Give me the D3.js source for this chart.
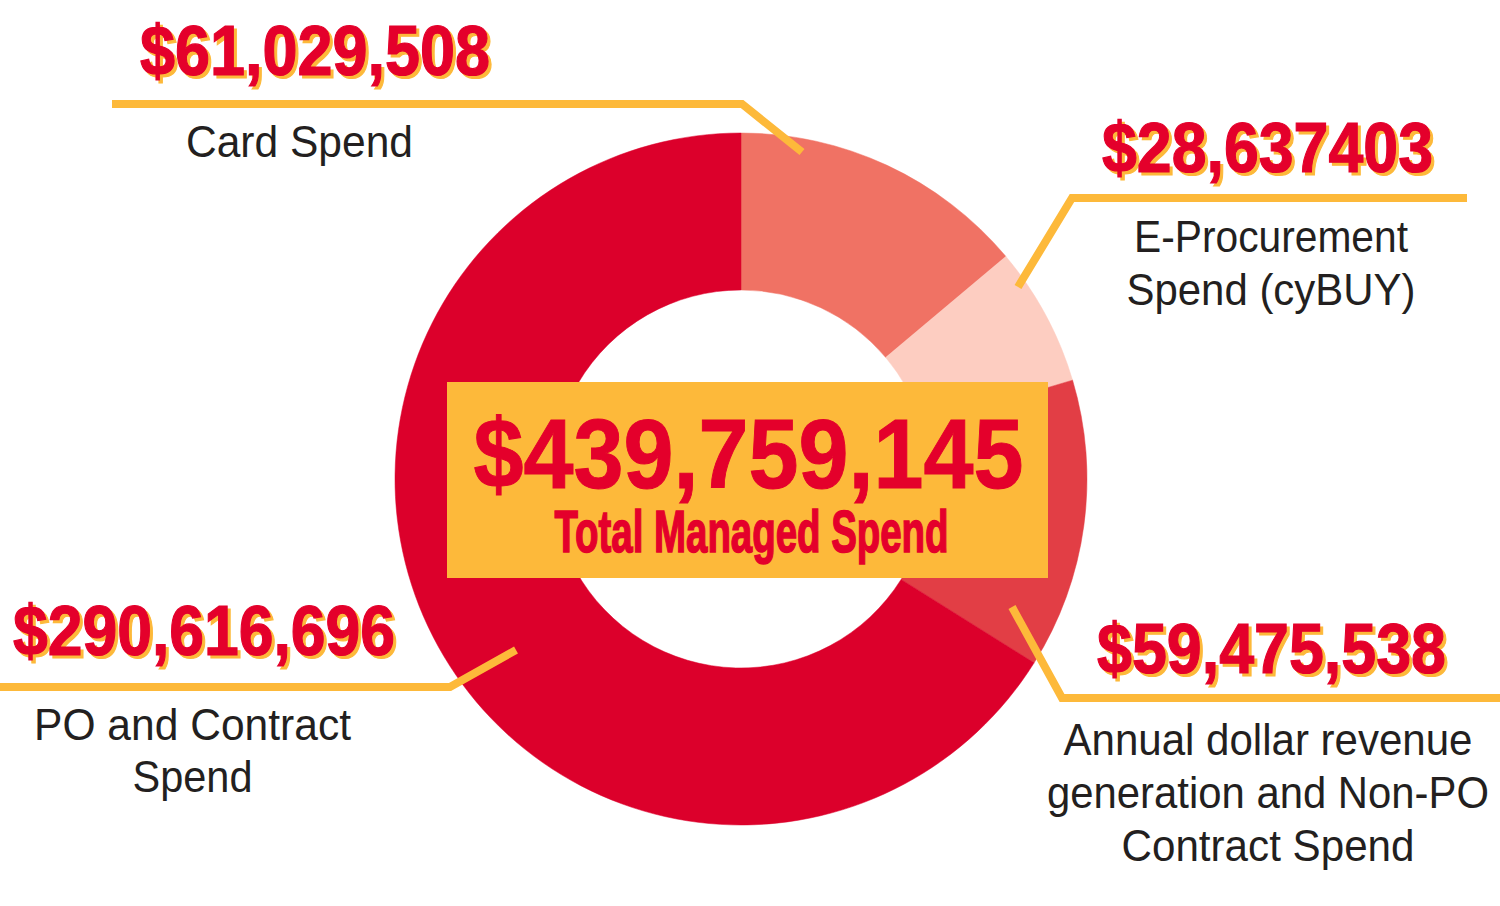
<!DOCTYPE html>
<html>
<head>
<meta charset="utf-8">
<script src="https://cdn.jsdelivr.net/npm/d3@7"></script>
<style>
  html, body { margin: 0; padding: 0; background: #ffffff; }
  svg { display: block; }
</style>
</head>
<body>
<svg id="chart" width="1500" height="906"></svg>
<script>
// ---------- DATA ----------
const categories = [
  "Card Spend",
  "E-Procurement Spend (cyBUY)",
  "Annual dollar revenue generation and Non-PO Contract Spend",
  "PO and Contract Spend"
];
const values = [61029508, 28637403, 59475538, 290616696];
const valueLabels = ["$61,029,508", "$28,637403", "$59,475,538", "$290,616,696"];
const labelLines = [
  ["Card Spend"],
  ["E-Procurement", "Spend (cyBUY)"],
  ["Annual dollar revenue", "generation and Non-PO", "Contract Spend"],
  ["PO and Contract", "Spend"]
];
const totalCaption = "Total Managed Spend";

// ---------- STYLE / LAYOUT ----------
const sliceColors = ["#F07264", "#FDCDC1", "#E23E45", "#DC002B"];
const RED = "#E4002B";
const GOLD = "#FDB93A";
const INK = "#231F20";
const cx = 741, cy = 479, rOuter = 346, rInner = 189;

const numFont = "'Liberation Sans', Arial, Helvetica, sans-serif";
const txtFont = "'Liberation Sans', Arial, Helvetica, sans-serif";

// annotation layout per category (same order as categories)
const layout = [
  { vx: 315, vy: 75, vw: 350, lx: 299.5, ly: 157, lh: 53, lw: [227],
    leader: [[112, 104], [742, 104], [802, 152]] },
  { vx: 1267.5, vy: 172, vw: 331, lx: 1271, ly: 252, lh: 53, lw: [274, 289],
    leader: [[1467, 198], [1072, 198], [1018, 287]] },
  { vx: 1271.5, vy: 673, vw: 349, lx: 1268, ly: 755, lh: 53, lw: [409, 442, 293],
    leader: [[1012, 607], [1062, 698], [1500, 698]] },
  { vx: 204, vy: 655, vw: 382, lx: 192.5, ly: 740, lh: 52, lw: [317, 120],
    leader: [[0, 687], [450, 687], [516, 650]] }
];

// ---------- DRAW ----------
const svg = d3.select("#chart");

const pie = d3.pie().sort(null).value(d => d.value).startAngle(0).endAngle(2 * Math.PI);
const arc = d3.arc().innerRadius(rInner).outerRadius(rOuter);
const data = categories.map((c, i) => ({ name: c, value: values[i], color: sliceColors[i] }));

const g = svg.append("g").attr("transform", `translate(${cx},${cy})`);
g.selectAll("path.slice")
  .data(pie(data))
  .join("path")
  .attr("class", "slice")
  .attr("d", arc)
  .attr("fill", d => d.data.color)
  .attr("stroke", d => d.data.color)
  .attr("stroke-width", 0.5);

// centre box
const total = d3.sum(values);
const totalLabel = d3.format("$,")(total);
svg.append("rect")
  .attr("x", 447).attr("y", 382)
  .attr("width", 601).attr("height", 196)
  .attr("fill", GOLD);

svg.append("text")
  .attr("x", 748.5).attr("y", 488)
  .attr("text-anchor", "middle")
  .attr("font-family", numFont)
  .attr("font-weight", "bold")
  .attr("font-size", 99)
  .attr("fill", RED)
  .attr("stroke", RED)
  .attr("stroke-width", 1)
  .attr("textLength", 550)
  .attr("lengthAdjust", "spacingAndGlyphs")
  .text(totalLabel);

svg.append("text")
  .attr("x", 751.5).attr("y", 552)
  .attr("text-anchor", "middle")
  .attr("font-family", numFont)
  .attr("font-weight", "bold")
  .attr("font-size", 59)
  .attr("fill", RED)
  .attr("stroke", RED)
  .attr("stroke-width", 1.6)
  .attr("textLength", 394)
  .attr("lengthAdjust", "spacingAndGlyphs")
  .text(totalCaption);

// leader lines
const line = d3.line();
svg.selectAll("path.leader")
  .data(layout)
  .join("path")
  .attr("class", "leader")
  .attr("d", d => line(d.leader))
  .attr("fill", "none")
  .attr("stroke", GOLD)
  .attr("stroke-width", 8)
  .attr("stroke-linejoin", "miter");

// value labels (gold shadow + red)
const ann = svg.selectAll("g.ann").data(layout).join("g").attr("class", "ann");
[{ dx: 3, dy: 3, fill: GOLD }, { dx: 0, dy: 0, fill: RED }].forEach(layer => {
  ann.append("text")
    .attr("x", d => d.vx + layer.dx)
    .attr("y", d => d.vy + layer.dy)
    .attr("text-anchor", "middle")
    .attr("font-family", numFont)
    .attr("font-weight", "bold")
    .attr("font-size", 70)
    .attr("fill", layer.fill)
    .attr("stroke", layer.fill)
    .attr("stroke-width", 1.2)
    .attr("textLength", d => d.vw)
    .attr("lengthAdjust", "spacingAndGlyphs")
    .text((d, i) => valueLabels[i]);
});

// category labels
ann.each(function (d, i) {
  const sel = d3.select(this);
  labelLines[i].forEach((t, j) => {
    sel.append("text")
      .attr("x", d.lx)
      .attr("y", d.ly + j * d.lh)
      .attr("text-anchor", "middle")
      .attr("font-family", txtFont)
      .attr("font-size", 45)
      .attr("fill", INK)
      .attr("textLength", d.lw[j])
      .attr("lengthAdjust", "spacingAndGlyphs")
      .text(t);
  });
});
</script>
</body>
</html>
